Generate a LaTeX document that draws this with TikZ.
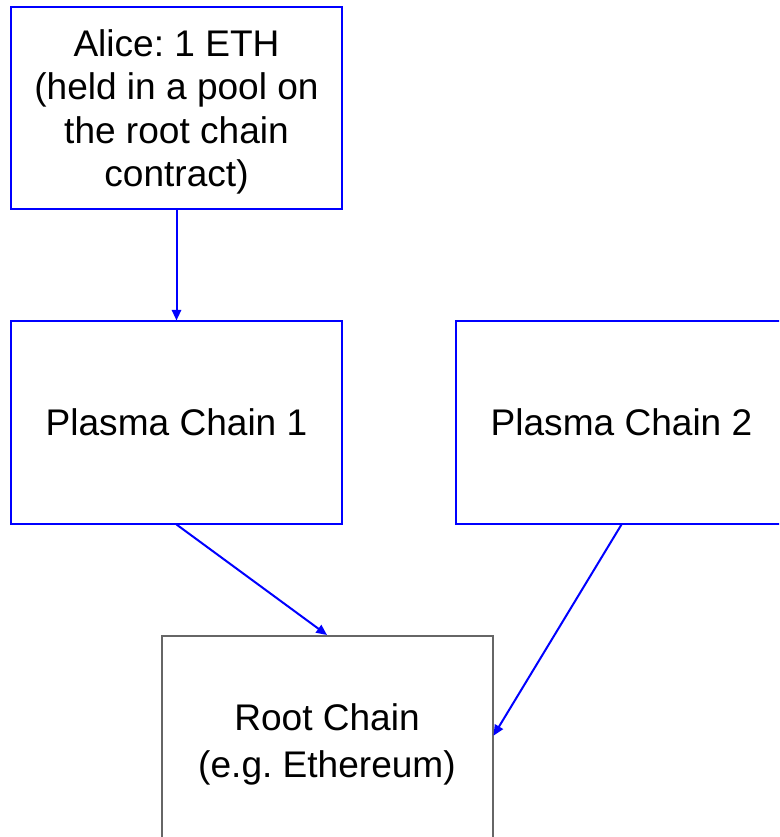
\documentclass[tikz,border=0pt]{standalone}
\usepackage{fontspec}
\setmainfont{Liberation Sans}
\frenchspacing
\usetikzlibrary{arrows.meta,positioning}
\definecolor{ChainBlue}{RGB}{0,0,255}
\definecolor{RootGray}{RGB}{102,102,102}

\begin{document}
\begin{tikzpicture}[x=0.75pt, y=-0.75pt,
        chain/.style={draw=ChainBlue, line width=1.5pt, fill=white,
                    minimum width=248.25pt, minimum height=151.5pt, align=center,
                    inner sep=0pt, text depth=0pt, font=\fontsize{27.8}{32.5}\selectfont},
        root/.style={chain, draw=RootGray, minimum height=157.5pt,
                    font=\fontsize{27.8}{35.25}\selectfont},
        arr/.style={-{Triangle[length=8pt, width=7pt]}, draw=ChainBlue, line width=1.5pt}
]
    \useasboundingbox (0,0) rectangle (779,837);
    \clip (0,0) rectangle (779,837);
    \node[chain] (alice) at (176.5,108) {Alice: 1 ETH\\(held in a pool on\\the root chain\\contract)};
    \node[chain] (p1) at (176.5,422.5) {Plasma Chain 1};
    \node[chain] (p2) at (621.5,422.5) {Plasma Chain 2};
    \node[root] (rc) at (327,741) {Root Chain\\(e.g. Ethereum)};
    \draw[arr] (alice) -- (p1);
    \draw[arr] (p1.south) -- (rc.north);
    \draw[arr] (p2.south) -- ([yshift=4pt]rc.east);
\end{tikzpicture}
\end{document}
